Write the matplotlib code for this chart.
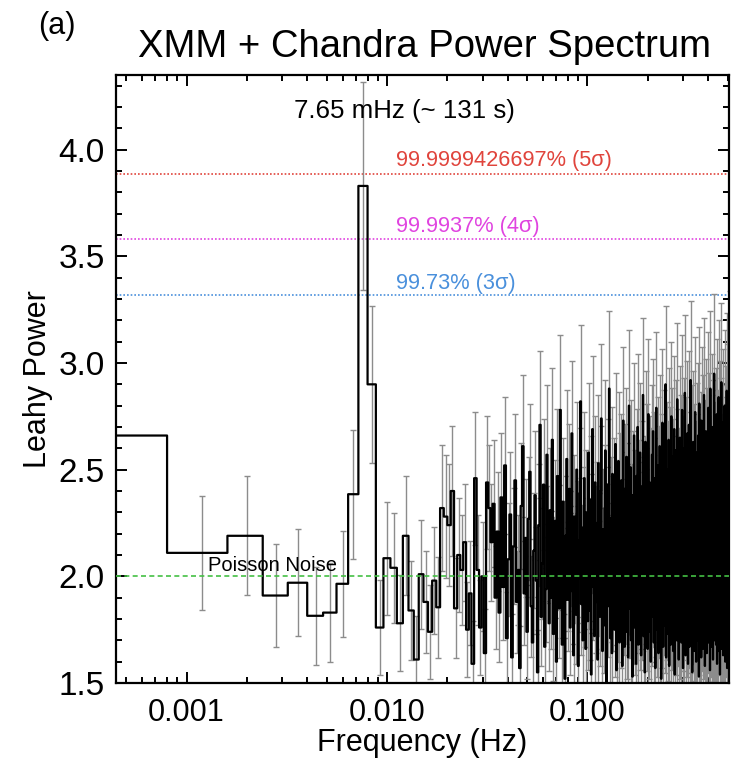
import numpy as np
import matplotlib
matplotlib.use("Agg")
import matplotlib.pyplot as plt
from matplotlib.ticker import FixedLocator, NullFormatter, MultipleLocator, FormatStrFormatter

plt.rcParams['font.family'] = ['Liberation Sans', 'DejaVu Sans']

# Frequency resolution of the averaged power spectrum (Hz) and number of averaged segments
df = 0.0008
n_avg = 62

# Leahy power in each frequency bin (bin k covers k*df .. (k+1)*df)
power = [
    2.66, 2.11, 2.19, 1.91, 1.97, 1.815, 1.83, 1.965, 2.385, 3.83,
    2.90, 1.76, 2.085, 2.04, 1.78, 2.19, 1.84, 1.61, 2.01, 1.88,
    1.74, 1.98, 1.855, 2.32, 2.28, 2.24, 2.40, 1.85, 2.10, 2.03,
    2.16, 1.75, 1.92, 1.59, 2.46, 2.03, 1.76, 2.00, 1.64, 2.44,
    2.32, 2.16, 2.34, 1.90,
    2.21, 1.83, 2.37, 1.95, 2.52, 1.71, 2.08, 2.29, 1.62, 2.14, 2.45, 1.88, 2.03, 1.57, 2.33, 2.61, 1.92, 2.18, 1.74, 2.27,
    2.49, 1.86, 1.69, 2.12, 2.38, 1.98, 1.55, 2.24, 2.71, 1.81, 2.06, 2.43, 1.67, 1.94, 2.57, 2.15, 1.78, 2.31, 1.90, 2.64,
    1.73, 2.02, 2.26, 1.60, 2.47, 2.11, 1.85, 2.78, 1.96, 1.68, 2.35, 2.09, 1.52, 2.19, 2.55, 1.89, 2.00, 2.41, 1.76, 2.13,
    2.67, 1.93, 1.63, 2.28, 2.04, 1.82, 2.50, 2.17, 1.58, 1.99, 2.39, 2.82, 1.87, 2.07, 1.70, 2.23, 2.46, 1.91, 1.66, 2.30,
    2.10, 1.79, 2.58, 2.01, 1.84, 2.36, 1.54, 2.20, 2.69, 1.95, 2.05, 1.72, 2.44, 2.15, 1.88, 2.25, 1.61, 2.53, 1.97, 2.12,
    1.81, 2.40, 2.74, 1.90, 1.65, 2.22, 2.06, 1.77, 2.32, 2.59, 1.94, 1.50, 2.16, 2.43, 1.86, 2.03, 2.88, 1.99, 1.71, 2.27,
    2.08, 1.64, 2.48, 2.19, 1.89, 2.35, 1.75, 2.02, 2.62, 1.92, 1.56, 2.26, 2.11, 1.83, 2.54, 2.00, 1.69, 2.37, 2.14, 1.80,
    2.45, 1.96, 1.58, 2.29, 2.73, 1.87, 2.05, 1.67, 2.41, 2.18, 1.93, 2.56, 1.74, 2.09, 2.33, 1.62, 2.21, 2.80, 1.98, 1.85,
    2.13, 2.51, 1.70, 2.24, 1.91, 1.53, 2.38, 2.07, 1.82, 2.66, 2.01, 1.76, 2.30, 2.15, 1.59, 2.47, 1.95, 2.20, 2.70, 1.88,
    1.68, 2.34, 2.04, 1.79, 2.58, 2.12, 1.90, 1.63, 2.42, 2.25, 1.84, 2.00, 2.85, 1.97, 1.72, 2.27, 2.10, 1.55, 2.36, 2.63,
    1.93, 2.17, 1.78, 2.49, 2.03, 1.66, 2.31, 2.76, 1.89, 2.08, 1.74, 2.44, 2.22, 1.86, 1.60, 2.39, 2.14, 1.99, 2.57, 1.81,
    2.05, 2.68, 1.91, 1.69, 2.28, 2.46, 1.83, 2.11, 1.57, 2.35, 2.02, 2.79, 1.94, 1.75, 2.23, 2.52, 1.88, 2.16, 1.64, 2.40,
    2.09, 1.85, 2.61, 1.98, 1.71, 2.32, 2.19, 1.52, 2.45, 2.06, 1.80, 2.72, 1.92, 2.26, 1.67, 2.13, 2.55, 1.87, 2.01, 2.37,
    1.77, 2.20, 2.90, 1.95, 1.62, 2.29, 2.07, 1.84, 2.50, 2.15, 1.73, 2.42, 1.99, 2.64, 1.90, 1.58, 2.33, 2.18, 1.82, 2.48,
    2.04, 1.68, 2.38, 2.75, 1.93, 2.12, 1.79, 2.56, 1.88, 2.24, 1.65, 2.43, 2.09, 1.97, 2.69, 1.85, 1.54, 2.30, 2.17, 1.91,
    2.59, 1.76, 2.02, 2.36, 1.70, 2.21, 2.83, 1.94, 1.81, 2.27, 2.47, 1.86, 1.61, 2.14, 2.39, 2.00, 1.74, 2.65, 1.96, 2.10,
    1.83, 2.53, 2.06, 1.69, 2.34, 1.92, 2.78, 2.16, 1.78, 2.44, 1.57, 2.25, 2.01, 1.87, 2.60, 2.11, 1.72, 2.31, 2.86, 1.95,
    2.19, 1.63, 2.41, 2.08, 1.84, 2.52, 1.98, 1.75, 2.28, 2.67, 1.89, 2.13, 1.59, 2.37, 2.03, 1.80, 2.71, 2.22, 1.93, 1.67,
    2.46, 2.05, 1.77, 2.33, 2.92, 1.90, 2.15, 1.71, 2.40, 2.57, 1.86, 2.00, 1.55, 2.26, 2.12, 1.82, 2.63, 1.97, 2.35, 1.73,
    2.18, 2.49, 1.88, 1.65, 2.30, 2.07, 2.77, 1.94, 1.79, 2.42, 2.14, 1.60, 2.38, 2.02, 1.85, 2.58, 2.23, 1.70, 2.45, 1.99,
    1.91, 2.66, 2.10, 1.76, 2.32, 1.53, 2.20, 2.81, 1.96, 2.06, 1.68, 2.43, 2.27, 1.84, 2.54, 1.92, 2.16, 1.62, 2.36, 2.73,
    1.87, 2.09, 1.78, 2.48, 2.01, 1.66, 2.29, 2.61, 1.93, 2.13, 1.74, 2.39, 2.85, 1.98, 1.81, 2.24, 2.04, 1.58, 2.51, 2.17,
    1.90, 2.34, 1.72, 2.68, 2.08, 1.85, 2.42, 1.95, 1.64, 2.28, 2.56, 1.89, 2.11, 1.77, 2.47, 2.00, 2.79, 1.83, 2.21, 1.69,
    2.37, 2.15, 1.94, 2.62, 1.80, 2.05, 1.56, 2.33, 2.88, 1.97, 2.19, 1.75, 2.44, 2.07, 1.86, 2.53, 1.91, 1.67, 2.30, 2.70,
    2.02, 1.79, 2.40, 2.12, 1.61, 2.26, 2.59, 1.88, 2.14, 1.73, 2.46, 2.95, 1.96, 1.84, 2.35, 2.03, 1.70, 2.50, 2.22, 1.92,
    1.82, 2.64, 2.09, 1.68, 2.31, 2.18, 1.99, 2.76, 1.87, 1.59, 2.43, 2.06, 1.78, 2.55, 2.25, 1.93, 2.38, 1.65, 2.13, 2.84,
    1.95, 2.01, 2.48, 1.76, 2.20, 1.89, 2.67, 2.10, 1.54, 2.36, 2.04, 1.85, 2.60, 2.16, 1.72, 2.41, 1.98, 2.91, 1.81, 2.27,
    2.08, 1.66, 2.45, 2.23, 1.90, 2.57, 1.77, 2.12, 2.34, 1.63, 2.72, 2.00, 1.86, 2.29, 2.49, 1.94, 1.71, 2.39, 2.15, 2.80,
    1.83, 2.05, 2.52, 1.97, 1.60, 2.32, 2.17, 1.88, 2.65, 2.07, 1.75, 2.44, 2.21, 1.92, 2.87, 1.80, 2.11, 1.57, 2.37, 2.58,
    1.99, 2.26, 1.69, 2.46, 2.03, 1.84, 2.74, 2.14, 1.91, 2.35, 1.64, 2.19, 2.62, 1.87, 2.09, 1.78, 2.43, 2.96, 1.95, 2.28,
    1.73, 2.51, 2.06, 1.82, 2.40, 2.18, 1.58, 2.69, 1.96, 2.13, 1.76, 2.33, 2.55, 1.89, 2.02, 2.82, 1.70, 2.24, 2.47, 1.93,
    2.10, 1.67, 2.38, 2.61, 1.85, 2.16, 1.98, 2.77, 1.79, 2.30, 2.04, 1.62, 2.50, 2.20, 1.90, 2.42, 1.74, 2.89, 2.07, 2.31,
    1.86, 2.56, 2.12, 1.68, 2.36, 2.01,
]

# Confidence thresholds for a single-bin excess above the noise level
level_5sigma = 3.888
level_4sigma = 3.583
level_3sigma = 3.317
noise_level = 2.0

labels_sigma = ['99.9999426697% (5\u03c3)', '99.9937% (4\u03c3)', '99.73% (3\u03c3)']
xtick_vals = [0.001, 0.01, 0.1]
xtick_labels = ['0.001', '0.010', '0.100']

power = np.array(power)
freq = df * (np.arange(len(power)) + 0.5)
err = power / np.sqrt(n_avg)

fig = plt.figure(figsize=(7.32, 7.62), dpi=100)
ax = fig.add_axes([116 / 732, 79 / 762, 613 / 732, 608 / 762])
ax.set_xscale('log')
ax.set_xlim(0.000445, 0.508)
ax.set_ylim(1.5, 4.35)

ax.errorbar(freq, power, yerr=err, fmt='none', ecolor='#8c8c8c',
            elinewidth=1.0, capsize=2.5, capthick=1.0, zorder=2)
ax.step(freq, power, where='mid', color='black', lw=1.6, zorder=3)

ax.axhline(level_5sigma, color='#e0443c', lw=1.2, ls=(0, (1, 1.2)), zorder=1)
ax.axhline(level_4sigma, color='#e044e0', lw=1.2, ls=(0, (1, 1.2)), zorder=1)
ax.axhline(level_3sigma, color='#4a90dc', lw=1.2, ls=(0, (1, 1.2)), zorder=1)
ax.axhline(noise_level, color='#44c044', lw=1.2, ls=(0, (3, 2)), zorder=4)

ax.text(0.01109, 3.95, labels_sigma[0], color='#e0443c', fontsize=15.7, va='center', ha='left')
ax.text(0.01109, 3.64, labels_sigma[1], color='#e044e0', fontsize=15.7, va='center', ha='left')
ax.text(0.01109, 3.373, labels_sigma[2], color='#4a90dc', fontsize=15.7, va='center', ha='left')
ax.text(0.003437, 4.18, '7.65 mHz (~ 131 s)', color='black', fontsize=18.6, va='center', ha='left')
ax.text(0.00128, 2.049, 'Poisson Noise', color='black', fontsize=14.5, va='center', ha='left', zorder=5)

ax.xaxis.set_major_locator(FixedLocator(xtick_vals))
ax.set_xticklabels(xtick_labels)
ax.xaxis.set_minor_locator(FixedLocator(
    [m * 10.0 ** e for e in (-4, -3, -2, -1) for m in range(2, 10)]))
ax.xaxis.set_minor_formatter(NullFormatter())
ax.yaxis.set_major_locator(MultipleLocator(0.5))
ax.yaxis.set_minor_locator(MultipleLocator(0.1))
ax.yaxis.set_major_formatter(FormatStrFormatter('%.1f'))

ax.tick_params(which='both', direction='in', top=True, right=True, width=1.4, colors='black')
ax.tick_params(which='major', length=8)
ax.tick_params(which='minor', length=4.5)
ax.tick_params(axis='x', labelsize=22, pad=11)
ax.tick_params(axis='y', labelsize=24, pad=8)
for s in ax.spines.values():
    s.set_linewidth(1.6)

ax.set_xlabel('Frequency (Hz)', fontsize=22, labelpad=0)
ax.set_ylabel('Leahy Power', fontsize=22, labelpad=4)

fig.text(425 / 732, 1 - 47 / 762, 'XMM + Chandra Power Spectrum', fontsize=27.5, ha='center', va='center')
fig.text(38 / 732, 1 - 26 / 762, '(a)', fontsize=22, ha='left', va='center')

fig.savefig('out.png', dpi=100)
